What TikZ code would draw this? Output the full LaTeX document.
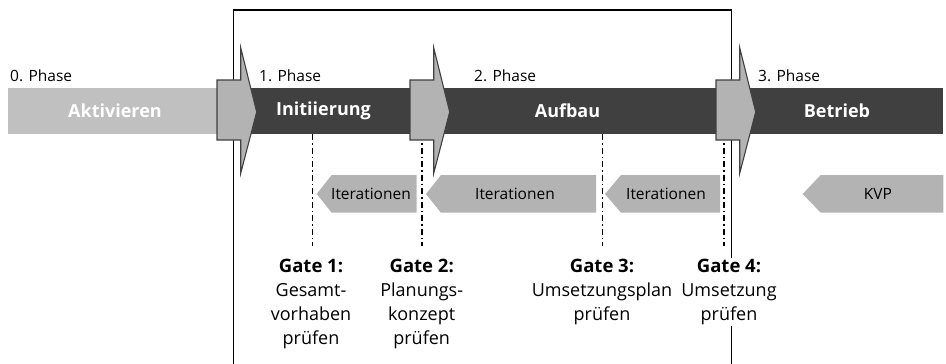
\documentclass[tikz,border=0pt]{standalone}
\usepackage{fontspec}
\setmainfont{Open Sans}
\definecolor{barlight}{HTML}{C0C0C0}
\definecolor{bardark}{HTML}{404040}
\definecolor{arrowgray}{HTML}{B3B3B3}
\newcommand\gatetitlefont{\fontsize{18.5}{24}\bfseries\selectfont}
\tikzset{
  phaselabel/.style={anchor=west, inner sep=0pt, font=\fontsize{15.5}{18}\selectfont, text=black},
  barlabel/.style={inner sep=0pt, font=\fontsize{18}{20}\bfseries\selectfont, text=white},
  blockarrow/.style={fill=arrowgray, draw=bardark, line width=1.1pt, line join=miter},
  iterarrow/.style={fill=arrowgray},
  iterlabel/.style={inner sep=0pt, font=\fontsize{15.5}{18}\selectfont},
  gateline/.style={line width=1.4pt, dash pattern=on 6pt off 3pt on 1.5pt off 3pt},
  gatelabel/.style={inner sep=1pt, align=center, anchor=north, font=\fontsize{18}{24}\selectfont},
  frame/.style={line width=1.5pt, draw=black}
}
\begin{document}
\begin{tikzpicture}[x=1pt,y=-1pt]
\useasboundingbox (0,0) rectangle (946,364);
\begin{scope}
\clip (0,0) rectangle (946,364);
% frame
\draw[frame] (233.5,370) -- (233.5,10) -- (731.5,10) -- (731.5,370);
\end{scope}
% bars
\fill[barlight] (8,88) rectangle (220,134);
\fill[bardark] (240,88) rectangle (943,134);
% phase labels
\node[phaselabel] (p0) at (10,76) {0. Phase};
\node[phaselabel] (p1) at (259,76) {1. Phase};
\node[phaselabel] (p2) at (474,76) {2. Phase};
\node[phaselabel] (p3) at (758,76) {3. Phase};
% bar labels
\node[barlabel] (akt) at (115,111) {Aktivieren};
\node[barlabel] (ini) at (323.5,111) {Initiierung};
\node[barlabel] (auf) at (567.5,111) {Aufbau};
\node[barlabel] (bet) at (837,111) {Betrieb};
% gate lines
\coordinate (g1t) at (312.3,134); \coordinate (g1b) at (312.3,246);
\coordinate (g2t) at (422,134); \coordinate (g2b) at (422,246);
\coordinate (g3t) at (602.7,134); \coordinate (g3b) at (602.7,246);
\coordinate (g4t) at (724,134); \coordinate (g4b) at (724,246);
\draw[gateline] (g1t) -- (g1b);
\draw[gateline] (g2t) -- (g2b);
\draw[gateline] (g3t) -- (g3b);
\draw[gateline] (g4t) -- (g4b);
% block arrows
\foreach \dx in {0,193,499}{
  \draw[blockarrow, xshift=\dx] (217,80) -- (240.7,80) -- (240.7,47.7) -- (256.7,112) -- (240.7,173.3) -- (240.7,140) -- (217,140) -- cycle;
}
% iteration arrows
\fill[iterarrow] (316.7,194) -- (331.7,175) -- (416.7,175) -- (416.7,212.7) -- (331.7,212.7) -- cycle;
\fill[iterarrow] (426,194) -- (441,175) -- (596,175) -- (596,212.7) -- (441,212.7) -- cycle;
\fill[iterarrow] (605,194) -- (621,175) -- (720,175) -- (720,212.7) -- (621,212.7) -- cycle;
\fill[iterarrow] (802.7,194) -- (820.7,175) -- (943.3,175) -- (943.3,212.7) -- (820.7,212.7) -- cycle;
\node[iterlabel] (it1) at (371,194) {Iterationen};
\node[iterlabel] (it2) at (515,194) {Iterationen};
\node[iterlabel] (it3) at (666,194) {Iterationen};
\node[iterlabel] (kvp) at (878,194) {KVP};
% gate labels
\node[gatelabel] (gate1) at (311,258) {{\gatetitlefont Gate 1:}\\Gesamt-\\vorhaben\\prüfen};
\node[gatelabel] (gate2) at (421.7,258) {{\gatetitlefont Gate 2:}\\Planungs-\\konzept\\prüfen};
\node[gatelabel] (gate3) at (602,258) {{\gatetitlefont Gate 3:}\\Umsetzungsplan\\prüfen};
\node[gatelabel, fill=white] (gate4) at (729,258) {{\gatetitlefont Gate 4:}\\Umsetzung\\prüfen};
\end{tikzpicture}
\end{document}
